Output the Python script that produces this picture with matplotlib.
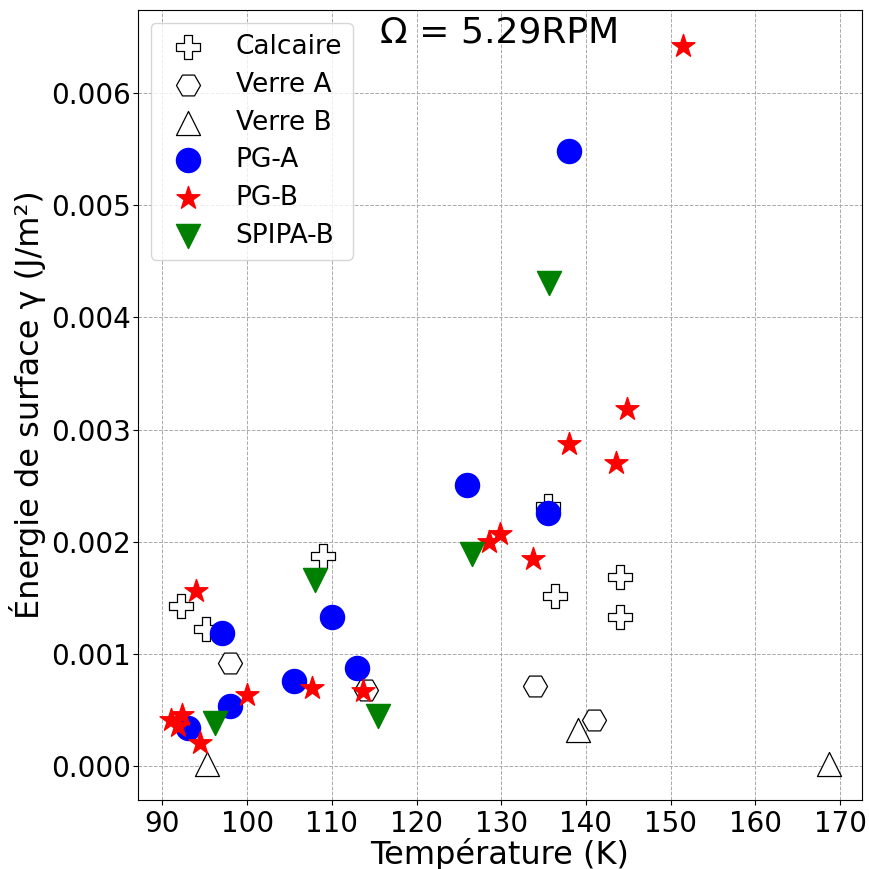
import numpy as np
import matplotlib.pyplot as plt

# Données (T en K, gamma en J/m^2)
calcaire_T = [92.2, 95.1, 109.0, 135.5, 136.4, 144.0, 144.0]
calcaire_g = [0.00143, 0.00122, 0.00187, 0.00232, 0.00152, 0.00169, 0.00133]

verreA_T = [98.0, 114.0, 134.0, 141.0]
verreA_g = [0.00092, 0.00068, 0.00072, 0.00041]

verreB_T = [95.3, 139.0, 168.7]
verreB_g = [0.00002, 0.00032, 0.00002]

pgA_T = [93.0, 98.0, 97.0, 105.5, 110.0, 113.0, 126.0, 135.5, 138.0]
pgA_g = [0.00034, 0.00054, 0.00119, 0.00076, 0.00133, 0.00088, 0.00251, 0.00226, 0.00548]

pgB_T = [91.0, 91.8, 92.3, 94.4, 94.0, 100.0, 107.6, 113.7,
         128.5, 129.9, 133.8, 138.0, 143.6, 144.8, 151.4]
pgB_g = [0.00041, 0.00036, 0.00046, 0.00021, 0.00156, 0.00064, 0.00070, 0.00067,
         0.00200, 0.00207, 0.00185, 0.00287, 0.00270, 0.00318, 0.00642]

spipa_T = [96.2, 108.0, 115.4, 126.5, 135.6]
spipa_g = [0.00039, 0.00166, 0.00045, 0.00189, 0.00431]

fig, ax = plt.subplots(figsize=(8.69, 8.69), dpi=100)
fig.subplots_adjust(left=138/869, right=862/869, top=1-10/869, bottom=1-800/869)

s = 300
ax.scatter(calcaire_T, calcaire_g, s=s, marker='P', facecolor='white', edgecolor='black', linewidth=0.9, label='Calcaire', zorder=3)
ax.scatter(verreA_T, verreA_g, s=s, marker='H', facecolor='white', edgecolor='black', linewidth=0.9, label='Verre A', zorder=3)
ax.scatter(verreB_T, verreB_g, s=s, marker='^', facecolor='white', edgecolor='black', linewidth=0.9, label='Verre B', zorder=3)
ax.scatter(pgA_T, pgA_g, s=s, marker='o', color='blue', label='PG-A', zorder=3)
ax.scatter(pgB_T, pgB_g, s=s, marker='*', color='red', label='PG-B', zorder=3)
ax.scatter(spipa_T, spipa_g, s=s, marker='v', color='green', label='SPIPA-B', zorder=3)

ax.grid(True, linestyle='--', color='#aaaaaa', linewidth=0.7)
ax.set_axisbelow(True)
ax.tick_params(labelsize=20)
ax.tick_params(axis='y', pad=1.5)
ax.set_xlabel('Température (K)', fontsize=23, labelpad=0)
ax.set_ylabel('Énergie de surface γ (J/m²)', fontsize=23, labelpad=4)
ax.set_xticks(np.arange(90, 171, 10))
ax.text(0.5, 0.993, 'Ω = 5.29RPM', transform=ax.transAxes, ha='center', va='top', fontsize=26)
ax.legend(loc='upper left', fontsize=19, labelspacing=0.45)

fig.savefig('out.png')
